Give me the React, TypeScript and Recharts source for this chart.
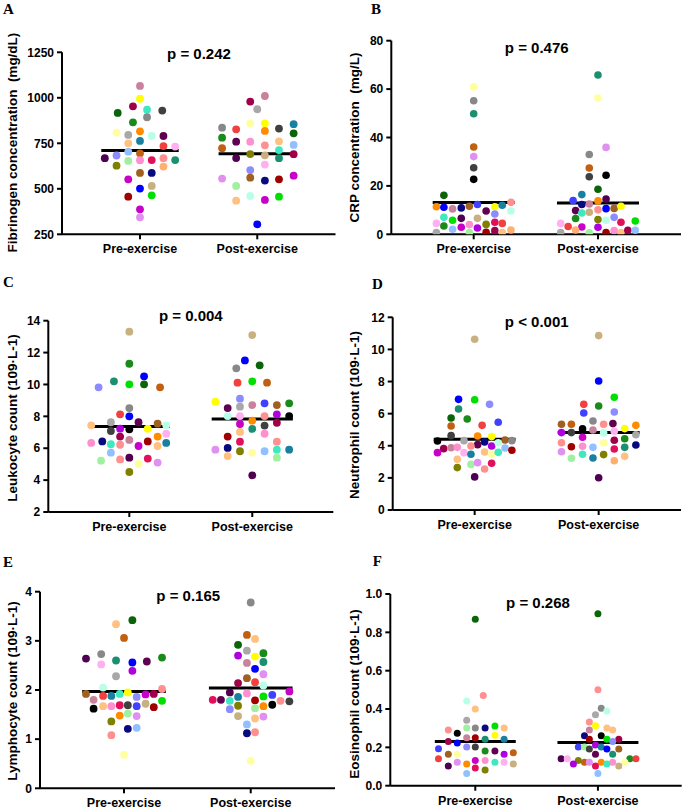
import React from 'react';
import { ScatterChart, Scatter, XAxis, YAxis, ReferenceLine } from 'recharts';

const CATEGORIES = ['Pre-exercise', 'Post-exercise'];

const PALETTE = [
  '#c9829b', '#ffff00', '#0a640a', '#a0004a', '#40e8c0', '#404040', '#1a8a1a', '#888888',
  '#ffffa0', '#ff8c00', '#a8a8a8', '#b8ffe8', '#600050', '#ffc080', '#1a80a0', '#f04040',
  '#ffb0f0', '#90c0ff', '#c06010', '#8c8cff', '#a0f0a0', '#ff90d0', '#e0105a', '#ff9090',
  '#1a9070', '#808000', '#a06020', '#0a0a80', '#c800c8', '#c8b080', '#0000ff', '#a00000',
  '#00e000', '#e090f0', '#000000', '#4040ff', '#b000e0', '#ffb070', '#500050',
];

type Dot = [number, number, number]; // [jitter, value, subject colour index]

const fibrinogenPre: Dot[] = [
  [0, 1065, 0], [0, 995, 1], [-0.19, 917, 2], [-0.06, 953, 3], [0.06, 935, 4], [0.19, 930, 5],
  [-0.06, 865, 6], [0.06, 893, 7], [-0.2, 809, 8], [0, 816, 9], [-0.1, 796, 10], [0.1, 790, 11],
  [0.2, 790, 12], [-0.1, 750, 13], [0, 763, 14], [0.2, 735, 15], [0.3, 732, 16], [-0.1, 704, 17],
  [0, 695, 18], [-0.3, 668, 38], [-0.2, 683, 19], [-0.1, 653, 20], [0, 657, 21], [0.1, 658, 22],
  [0.2, 668, 23], [0.3, 658, 24], [-0.2, 627, 25], [0.2, 622, 37], [0, 587, 26], [0.1, 587, 27],
  [-0.1, 552, 28], [0.1, 516, 29], [0, 501, 30], [-0.1, 457, 31], [0.1, 464, 32], [0, 387, 28],
  [0, 343, 33],
];
const fibrinogenPost: Dot[] = [
  [0.065, 1010, 0], [-0.06, 979, 3], [0, 937, 10], [-0.3, 836, 7], [-0.18, 827, 15], [-0.06, 860, 8],
  [0.065, 860, 1], [0.065, 818, 9], [0.185, 831, 5], [0.31, 855, 14], [-0.3, 781, 6], [0.31, 805, 2],
  [-0.18, 759, 12], [-0.06, 759, 21], [0.065, 739, 23], [0.185, 761, 13], [0.31, 741, 17], [-0.3, 723, 18],
  [0.185, 713, 4], [-0.06, 691, 25], [0.065, 684, 29], [-0.18, 669, 38], [0.185, 668, 24], [0.31, 690, 3],
  [0.065, 633, 16], [-0.06, 603, 19], [-0.3, 556, 33], [-0.06, 561, 26], [0.065, 545, 27], [0.185, 552, 31],
  [0.31, 572, 28], [-0.18, 516, 20], [-0.18, 435, 13], [-0.06, 461, 11], [0.065, 439, 28], [0.185, 457, 32],
  [0, 305, 30],
];

const crpPre: Dot[] = [
  [0, 60.9, 8], [0, 55.2, 7], [0, 49.8, 24], [0, 36.1, 18], [0, 32.1, 33], [0, 27.5, 5], [0, 22.7, 34],
  [-0.24, 16.1, 2], [-0.3, 11.4, 9], [-0.24, 11.2, 30], [-0.17, 10.5, 0], [-0.1, 10.9, 27], [-0.035, 11.6, 26],
  [0.03, 12.3, 35], [0.1, 9.6, 12], [0.17, 11.4, 1], [0.17, 8.4, 19], [0.23, 12.0, 14], [0.3, 13.2, 23],
  [0.3, 9.6, 11], [-0.24, 7.0, 4], [-0.17, 5.8, 32], [-0.1, 6.6, 38], [0.03, 6.6, 29], [-0.3, 4.5, 16],
  [-0.24, 3.4, 6], [-0.1, 2.9, 28], [-0.035, 4.0, 21], [0.03, 2.6, 36], [0.1, 4.1, 25], [0.17, 5.0, 22],
  [0.23, 4.5, 15], [-0.17, 2.1, 17], [-0.3, 0.7, 10], [-0.035, 0.7, 20], [0.1, 0.8, 31], [0.17, 1.5, 3],
  [0.23, 0.7, 13], [0.3, 1.8, 37],
];
const crpPost: Dot[] = [
  [0, 65.8, 24], [0, 56.3, 8], [0.065, 35.9, 33], [-0.07, 33.0, 7], [-0.07, 27.4, 18], [-0.07, 23.8, 5],
  [0.065, 24.4, 34], [0, 18.6, 2], [-0.13, 16.4, 14], [-0.2, 13.9, 35], [-0.13, 12.3, 27], [-0.07, 12.5, 0],
  [0, 13.8, 9], [0.065, 14.6, 38], [-0.18, 9.8, 12], [-0.13, 8.8, 4], [-0.07, 9.1, 29], [0, 10.1, 23],
  [0.065, 10.6, 30], [0.13, 10.7, 26], [0.185, 11.6, 1], [-0.18, 6.5, 6], [0, 6.1, 25], [0.065, 5.8, 11],
  [0.13, 7.0, 19], [0.185, 5.0, 22], [0.3, 5.5, 32], [-0.3, 4.5, 16], [-0.24, 3.2, 15], [-0.13, 3.0, 28],
  [0, 2.9, 36], [-0.3, 0.7, 10], [-0.18, 1.8, 37], [-0.07, 0.6, 20], [0.065, 0.7, 31], [0.13, 1.5, 21],
  [0.185, 0.7, 13], [0.24, 1.7, 3], [0.3, 1.7, 17],
];

const leukocytePre: Dot[] = [
  [0, 13.31, 29], [0, 11.3, 6], [0.12, 10.51, 30], [-0.25, 9.82, 19], [-0.125, 10.2, 24], [0, 10.01, 32],
  [0.12, 10.01, 2], [0.25, 9.82, 18], [0, 8.52, 7], [-0.075, 8.13, 15], [0, 8.0, 30], [-0.15, 7.63, 10],
  [0.075, 7.63, 12], [0.23, 7.54, 26], [0.3, 7.44, 11], [-0.31, 7.44, 13], [-0.15, 7.08, 5], [-0.075, 7.23, 36],
  [0, 7.19, 34], [0.15, 7.23, 1], [-0.075, 6.73, 3], [0, 6.52, 0], [0.075, 6.14, 28], [0.15, 6.43, 31],
  [0.23, 6.73, 9], [0.3, 6.91, 16], [-0.31, 6.33, 21], [-0.22, 6.43, 27], [-0.15, 6.25, 4], [-0.075, 6.22, 23],
  [0.23, 6.14, 13], [0.3, 6.33, 14], [-0.15, 5.72, 17], [-0.23, 5.22, 20], [-0.075, 5.3, 23], [0, 5.41, 38],
  [0.15, 5.35, 22], [0.23, 5.1, 33], [0.075, 5.01, 8], [0, 4.51, 25],
];
const leukocytePost: Dot[] = [
  [0, 13.1, 29], [-0.06, 11.51, 30], [-0.13, 11.01, 7], [0.06, 11.2, 2], [-0.12, 10.11, 15], [0, 10.2, 32],
  [0.12, 10.11, 18], [-0.3, 8.92, 1], [-0.2, 8.52, 12], [-0.1, 9.11, 19], [-0.1, 8.61, 10], [0, 8.71, 0],
  [0.1, 8.82, 35], [0.2, 8.71, 26], [0.3, 8.82, 6], [-0.2, 8.02, 11], [-0.1, 8.02, 16], [0, 7.73, 9],
  [0.1, 8.02, 23], [0.2, 8.13, 36], [0.3, 8.02, 34], [-0.1, 7.52, 28], [0, 7.21, 24], [0.1, 7.42, 5],
  [0.2, 7.6, 3], [-0.2, 6.73, 31], [-0.1, 7.02, 13], [0.1, 6.91, 21], [-0.1, 6.41, 22], [0.2, 6.41, 23],
  [-0.3, 5.91, 33], [-0.2, 6.02, 27], [-0.1, 5.81, 25], [-0.2, 5.51, 13], [0, 5.72, 8], [0.1, 5.81, 17],
  [0.2, 5.91, 4], [0.3, 5.91, 14], [0.2, 5.41, 20], [0, 4.3, 38],
];

const neutrophilPre: Dot[] = [
  [0, 10.63, 29], [-0.13, 6.89, 30], [0, 6.87, 32], [-0.13, 6.29, 24], [-0.19, 5.73, 2], [-0.06, 5.67, 6],
  [0.12, 6.58, 19], [0.06, 5.27, 15], [0.19, 5.46, 35], [-0.19, 5.23, 18], [-0.19, 4.63, 5], [-0.3, 4.3, 34],
  [-0.086, 4.32, 10], [0.024, 4.61, 9], [0.137, 4.57, 1], [0.245, 4.36, 26], [0.3, 4.32, 7], [0.024, 4.07, 12],
  [0.08, 4.24, 27], [0.137, 3.99, 36], [0.19, 4.19, 11], [-0.25, 3.82, 3], [-0.19, 3.88, 0], [-0.14, 3.9, 21],
  [-0.03, 3.99, 23], [0.245, 3.86, 17], [0.3, 3.72, 31], [-0.3, 3.57, 28], [-0.086, 3.57, 16], [-0.03, 3.47, 14],
  [0.08, 3.61, 13], [0.137, 3.49, 8], [0.19, 3.59, 4], [-0.14, 3.16, 13], [-0.03, 2.84, 20], [0.024, 2.95, 33],
  [0.137, 2.91, 22], [-0.14, 2.64, 25], [0.08, 2.55, 23], [0, 2.06, 38],
];
const neutrophilPost: Dot[] = [
  [0, 10.86, 29], [0, 8.03, 30], [0.126, 7.02, 32], [-0.12, 6.58, 15], [0, 6.48, 6], [-0.12, 6.04, 35],
  [0.126, 6.1, 19], [-0.3, 5.34, 26], [-0.22, 5.34, 18], [-0.046, 5.54, 7], [0.115, 5.38, 12], [0.04, 5.34, 23],
  [0.21, 5.07, 1], [0.3, 5.27, 9], [-0.13, 5.05, 34], [-0.3, 4.82, 36], [-0.22, 4.82, 5], [-0.046, 4.98, 0],
  [0.04, 4.8, 11], [0.126, 4.9, 16], [0.3, 4.69, 10], [-0.13, 4.53, 28], [0.21, 4.44, 6], [0.126, 4.34, 3],
  [-0.3, 4.19, 23], [-0.22, 3.94, 31], [-0.13, 3.97, 21], [-0.046, 3.9, 17], [0.04, 4.19, 8], [0.3, 4.05, 27],
  [0.21, 3.9, 24], [0.126, 3.8, 22], [-0.3, 3.63, 33], [-0.13, 3.47, 4], [0.04, 3.45, 25], [0.21, 3.34, 13],
  [-0.22, 3.22, 20], [-0.046, 3.24, 14], [0.126, 3.07, 37], [0, 2.01, 38],
];

const lymphocytePre: Dot[] = [
  [0.066, 3.42, 2], [-0.063, 3.34, 13], [0, 3.06, 18], [-0.3, 2.64, 38], [-0.18, 2.73, 7], [-0.18, 2.52, 16],
  [-0.063, 2.6, 24], [0.066, 2.56, 30], [0.18, 2.58, 12], [0.3, 2.66, 6], [0.066, 2.39, 36], [-0.063, 2.28, 10],
  [-0.165, 2.05, 11], [0.3, 2.02, 23], [-0.3, 1.92, 26], [-0.24, 1.8, 0], [-0.165, 1.88, 15], [-0.1, 1.88, 14],
  [-0.034, 1.92, 4], [0.03, 1.95, 1], [0.1, 1.86, 19], [0.17, 1.91, 28], [0.235, 1.92, 3], [0.3, 1.78, 32],
  [-0.24, 1.62, 34], [-0.165, 1.67, 13], [-0.1, 1.67, 21], [-0.034, 1.69, 22], [0.03, 1.69, 5], [0.1, 1.67, 35],
  [0.17, 1.72, 29], [0.235, 1.65, 31], [-0.1, 1.36, 25], [-0.034, 1.48, 9], [0.03, 1.52, 20], [0.1, 1.47, 33],
  [0.03, 1.21, 27], [0.1, 1.23, 17], [-0.1, 1.08, 23], [0, 0.68, 8],
];
const lymphocytePost: Dot[] = [
  [0, 3.78, 7], [-0.03, 3.12, 18], [0.034, 3.04, 13], [-0.1, 2.92, 2], [-0.03, 2.8, 10], [0.1, 2.75, 6],
  [-0.1, 2.7, 36], [0.034, 2.68, 1], [-0.03, 2.55, 0], [0.1, 2.57, 24], [0.034, 2.43, 30], [0.1, 2.32, 33],
  [-0.03, 2.24, 26], [-0.1, 2.14, 3], [0.034, 2.16, 15], [0.1, 2.09, 11], [-0.165, 1.95, 38], [-0.03, 1.93, 21],
  [0.305, 1.97, 28], [-0.1, 1.86, 14], [0.1, 1.87, 32], [0.17, 1.9, 35], [-0.3, 1.8, 22], [-0.235, 1.8, 12],
  [-0.165, 1.78, 4], [0.034, 1.79, 31], [0.235, 1.78, 23], [0.305, 1.77, 5], [-0.1, 1.68, 25], [0.1, 1.67, 9],
  [0.17, 1.7, 34], [-0.165, 1.61, 19], [0.034, 1.63, 20], [-0.1, 1.47, 29], [0.034, 1.42, 13], [0.1, 1.46, 33],
  [-0.03, 1.3, 17], [-0.03, 1.12, 27], [0.034, 1.14, 23], [0, 0.56, 8],
];

const eosinophilPre: Dot[] = [
  [0, 0.868, 2], [0.065, 0.47, 23], [-0.07, 0.442, 11], [0, 0.4, 13], [-0.07, 0.341, 10], [-0.07, 0.301, 20],
  [0, 0.301, 7], [0.08, 0.301, 27], [0.16, 0.311, 32], [0.235, 0.301, 13], [-0.22, 0.29, 23], [-0.147, 0.273, 34],
  [0.16, 0.263, 1], [-0.07, 0.25, 0], [0, 0.25, 31], [-0.22, 0.231, 3], [-0.147, 0.223, 30], [0.08, 0.242, 24],
  [0.235, 0.242, 14], [-0.3, 0.193, 35], [-0.07, 0.202, 19], [0, 0.202, 5], [0.08, 0.181, 6], [0.16, 0.181, 12],
  [-0.22, 0.164, 26], [-0.147, 0.164, 8], [0.235, 0.164, 36], [0.31, 0.172, 18], [-0.3, 0.141, 15], [-0.147, 0.122, 33],
  [-0.07, 0.113, 9], [0, 0.132, 28], [0.08, 0.132, 21], [0.16, 0.122, 4], [0.235, 0.122, 16], [0.31, 0.113, 29],
  [-0.22, 0.103, 38], [0, 0.092, 22], [0.08, 0.082, 25], [-0.07, 0.063, 17],
];
const eosinophilPost: Dot[] = [
  [0, 0.897, 2], [0, 0.501, 23], [0.027, 0.404, 7], [0.073, 0.39, 11], [-0.02, 0.37, 10], [-0.07, 0.332, 23],
  [0.073, 0.301, 13], [0.12, 0.29, 13], [-0.02, 0.313, 1], [-0.07, 0.29, 0], [-0.11, 0.261, 27], [0.027, 0.261, 34],
  [-0.07, 0.242, 31], [0.073, 0.242, 32], [0.17, 0.242, 3], [0.12, 0.231, 19], [-0.16, 0.202, 35], [-0.11, 0.202, 20],
  [-0.02, 0.212, 36], [0.027, 0.202, 14], [0.073, 0.191, 30], [-0.07, 0.191, 5], [0.17, 0.191, 26], [-0.02, 0.164, 12],
  [0.12, 0.164, 24], [-0.3, 0.141, 38], [-0.25, 0.141, 16], [0.26, 0.141, 6], [0.31, 0.141, 15], [-0.16, 0.132, 25],
  [-0.11, 0.122, 18], [-0.07, 0.122, 33], [0.027, 0.122, 9], [0.12, 0.122, 21], [-0.2, 0.113, 36], [0.073, 0.113, 4],
  [0.22, 0.122, 8], [-0.02, 0.103, 22], [0.17, 0.103, 29], [0, 0.063, 17],
];

const MEDIANS_A = [710, 693];
const MEDIANS_B = [13.1, 12.9];
const MEDIANS_C = [7.37, 7.83];
const MEDIANS_D = [4.4, 4.82];
const MEDIANS_E = [1.97, 2.04];
const MEDIANS_F = [0.231, 0.226];

const TICKS_A = [250, 500, 750, 1000, 1250];
const TICKS_B = [0, 20, 40, 60, 80];
const TICKS_C = [2, 4, 6, 8, 10, 12, 14];
const TICKS_D = [0, 2, 4, 6, 8, 10, 12];
const TICKS_E = [0, 1, 2, 3, 4];
const TICKS_F = [0, 0.2, 0.4, 0.6, 0.8, 1.0];

const SANS = '"Liberation Sans", Arial, sans-serif';
const SERIF = '"Liberation Serif", "Times New Roman", serif';

interface PanelDef {
  letter: string;
  pText: string;
  yLabel: string;
  pre: Dot[];
  post: Dot[];
  medians: number[];
  ticks: number[];
  yDomain: [number, number];
  xDomain: [number, number];
  fmt?: (v: number) => string;
  ox: number; oy: number; W: number; H: number;
  plotLeft: number; plotRight: number; plotTop: number; plotBottom: number;
  letterPos: [number, number];
  pPos: [number, number];
  yLabelPos: [number, number];
  r: number;
}

const PANELS: PanelDef[] = [
  {
    letter: 'A', pText: 'p = 0.242', yLabel: 'Fibrinogen concentration  (mg/dL)',
    pre: fibrinogenPre, post: fibrinogenPost, medians: MEDIANS_A, ticks: TICKS_A, yDomain: [250, 1250],
    xDomain: [0.335, 2.667], ox: 0, oy: 0, W: 342, H: 270,
    plotLeft: 62, plotRight: 335.5, plotTop: 52.3, plotBottom: 234.3,
    letterPos: [3, 13.5], pPos: [199, 59.3], yLabelPos: [17, 142.5], r: 3.9,
  },
  {
    letter: 'B', pText: 'p = 0.476', yLabel: 'CRP concentration  (mg/L)',
    pre: crpPre, post: crpPost, medians: MEDIANS_B, ticks: TICKS_B, yDomain: [0, 80],
    xDomain: [0.337, 2.668], ox: 342, oy: 0, W: 343, H: 270,
    plotLeft: 391.3, plotRight: 681, plotTop: 40.7, plotBottom: 234.3,
    letterPos: [371, 13.5], pPos: [536.7, 53.3], yLabelPos: [359, 137.5], r: 3.8,
  },
  {
    letter: 'C', pText: 'p = 0.004', yLabel: 'Leukocyte count (109·L-1)',
    pre: leukocytePre, post: leukocytePost, medians: MEDIANS_C, ticks: TICKS_C, yDomain: [2, 14],
    xDomain: [0.341, 2.659], ox: 0, oy: 270, W: 342, H: 270,
    plotLeft: 48.3, plotRight: 333.3, plotTop: 320.7, plotBottom: 512,
    letterPos: [3, 287.3], pPos: [190.8, 321], yLabelPos: [17, 418], r: 3.9,
  },
  {
    letter: 'D', pText: 'p < 0.001', yLabel: 'Neutrophil count (109·L-1)',
    pre: neutrophilPre, post: neutrophilPost, medians: MEDIANS_D, ticks: TICKS_D, yDomain: [0, 12],
    xDomain: [0.339, 2.664], ox: 342, oy: 270, W: 343, H: 270,
    plotLeft: 392.7, plotRight: 681, plotTop: 317.3, plotBottom: 510,
    letterPos: [372, 289.3], pPos: [536.7, 326.7], yLabelPos: [359, 415], r: 3.8,
  },
  {
    letter: 'E', pText: 'p = 0.165', yLabel: 'Lymphocyte count (109·L-1)',
    pre: lymphocytePre, post: lymphocytePost, medians: MEDIANS_E, ticks: TICKS_E, yDomain: [0, 4],
    xDomain: [0.337, 2.665], ox: 0, oy: 540, W: 342, H: 272,
    plotLeft: 40, plotRight: 335, plotTop: 591.7, plotBottom: 788.3,
    letterPos: [3, 566.7], pPos: [188.2, 600.7], yLabelPos: [17, 691], r: 3.9,
  },
  {
    letter: 'F', pText: 'p = 0.268', yLabel: 'Eosinophil count (109·L-1)',
    pre: eosinophilPre, post: eosinophilPost, medians: MEDIANS_F, ticks: TICKS_F, yDomain: [0, 1],
    xDomain: [0.307, 2.683], ox: 342, oy: 540, W: 343, H: 272,
    plotLeft: 390.3, plotRight: 681.7, plotTop: 594, plotBottom: 785.7,
    letterPos: [372.7, 566], pPos: [538, 607.7], yLabelPos: [359, 694], r: 3.5,
    fmt: (v: number) => v.toFixed(1),
  },
];

const X_AXIS_H = 20;
const MEDIAN_HALF = 0.33;

function Panel({ p }: { p: PanelDef }) {
  const data = [
    ...p.pre.map(([o, v, c]) => ({ x: 1 + o, y: v, fill: PALETTE[c] })),
    ...p.post.map(([o, v, c]) => ({ x: 2 + o, y: v, fill: PALETTE[c] })),
  ];
  const margin = {
    top: p.plotTop - p.oy,
    right: p.ox + p.W - p.plotRight,
    bottom: p.oy + p.H - p.plotBottom - X_AXIS_H,
    left: 0,
  };
  const r = p.r;
  const shape = (props: any) => (
    <circle cx={props.cx} cy={props.cy} r={r} fill={props.payload.fill} />
  );
  const tickStyle = { fill: '#000', fontSize: 12, fontWeight: 700, fontFamily: SANS };
  return (
    <div style={{ position: 'absolute', left: p.ox, top: p.oy, width: p.W, height: p.H }}>
      <ScatterChart width={p.W} height={p.H} margin={margin}>
        <XAxis
          type="number"
          dataKey="x"
          domain={p.xDomain}
          ticks={[1, 2]}
          interval={0}
          allowDataOverflow
          tickFormatter={(v: number) => CATEGORIES[Math.round(v) - 1]}
          height={X_AXIS_H}
          axisLine={{ stroke: '#000', strokeWidth: 2 }}
          tickLine={{ stroke: '#000', strokeWidth: 2 }}
          tickSize={5}
          tickMargin={5}
          tick={{ ...tickStyle, fontSize: 12.5 }}
        />
        <YAxis
          type="number"
          dataKey="y"
          domain={p.yDomain}
          ticks={p.ticks}
          interval={0}
          allowDataOverflow
          width={p.plotLeft - p.ox}
          tickFormatter={p.fmt ? p.fmt : (v: number) => String(v)}
          axisLine={{ stroke: '#000', strokeWidth: 2 }}
          tickLine={{ stroke: '#000', strokeWidth: 2 }}
          tickSize={5}
          tickMargin={3}
          tick={tickStyle}
        />
        <Scatter data={data} shape={shape} isAnimationActive={false} />
        {p.medians.map((m, i) => (
          <ReferenceLine
            key={i}
            segment={[{ x: i + 1 - MEDIAN_HALF, y: m }, { x: i + 1 + MEDIAN_HALF, y: m }]}
            stroke="#000"
            strokeWidth={3}
          />
        ))}
      </ScatterChart>
    </div>
  );
}

export default function App() {
  return (
    <div style={{ position: 'absolute', left: 0, top: 0, width: 685, height: 812, background: '#fff', overflow: 'hidden' }}>
      {PANELS.map((p) => (
        <Panel key={p.letter} p={p} />
      ))}
      <svg width={685} height={812} style={{ position: 'absolute', left: 0, top: 0, pointerEvents: 'none' }}>
        {PANELS.map((p) => (
          <g key={p.letter}>
            <text x={p.letterPos[0]} y={p.letterPos[1]} fontFamily={SERIF} fontWeight={700} fontSize={15} fill="#000">
              {p.letter}
            </text>
            <text x={p.pPos[0]} y={p.pPos[1]} textAnchor="middle" fontFamily={SANS} fontWeight={700} fontSize={15} fill="#000">
              {p.pText}
            </text>
            <text
              x={p.yLabelPos[0]}
              y={p.yLabelPos[1]}
              transform={`rotate(-90 ${p.yLabelPos[0]} ${p.yLabelPos[1]})`}
              textAnchor="middle"
              fontFamily={SANS}
              fontWeight={700}
              fontSize={13.5}
              fill="#000"
              style={{ whiteSpace: 'pre' }}
            >
              {p.yLabel}
            </text>
          </g>
        ))}
      </svg>
    </div>
  );
}
